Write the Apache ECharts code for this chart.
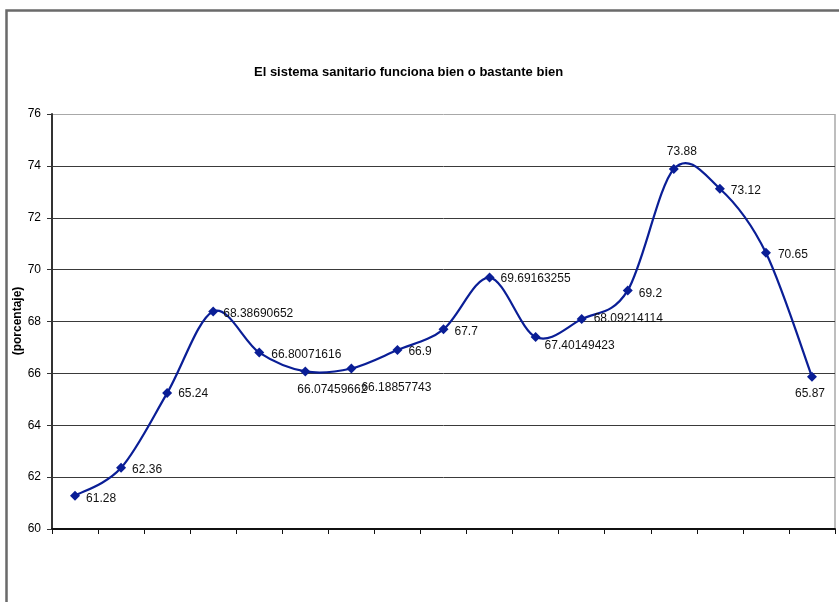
<!DOCTYPE html>
<html>
<head>
<meta charset="utf-8">
<script src="https://cdn.jsdelivr.net/npm/echarts@6/dist/echarts.min.js"></script>
<style>html,body{margin:0;padding:0;background:#fff}#c{width:839px;height:602px}</style>
</head>
<body>
<div id="c"></div>
<script>
var titleText = 'El sistema sanitario funciona bien o bastante bien';
var yAxisName = '(porcentaje)';
var categories = ['1','2','3','4','5','6','7','8','9','10','11','12','13','14','15','16','17'];
var values = [61.28, 62.36, 65.24, 68.38690652, 66.80071616, 66.07459662, 66.18857743, 66.9, 67.7,
              69.69163255, 67.40149423, 68.09214114, 69.2, 73.88, 73.12, 70.65, 65.87];
var yMin = 60, yMax = 76, yStep = 2;

// label placement tweaks (layout only)
var labelOffsets = [[0,3],[0,2],[0,1],[-1,2],[1,2],[-19,18],[-1,19],[0,2],[0,2],[0,1],[-2,9],[1,0],[0,3],[-18,-17],[0,2],[1,2],[-28,17]];

var chart = echarts.init(document.getElementById('c'), null, {renderer:'canvas'});
var font = '"Liberation Sans", Arial, sans-serif';
var lineColor = '#0a1e96';
var splitColors = [];
for (var i = 0; i <= (yMax - yMin) / yStep; i++) splitColors.push(i === (yMax - yMin) / yStep ? '#a8a8a8' : '#3a3a3a');

// Excel-style smoothed curve (Catmull-Rom through the data points, via the axis scales)
function renderCurve(params, api) {
  if (params.dataIndex !== 0) return null;
  var pts = [];
  for (var k = 0; k < values.length; k++) pts.push(api.coord([k, values[k]]));
  var d = 'M' + pts[0][0] + ' ' + pts[0][1];
  for (var j = 0; j < pts.length - 1; j++) {
    var p0 = pts[j > 0 ? j - 1 : j], p1 = pts[j], p2 = pts[j + 1], p3 = pts[j + 2 < pts.length ? j + 2 : j + 1];
    var c1x = p1[0] + (p2[0] - p0[0]) / 6, c1y = p1[1] + (p2[1] - p0[1]) / 6;
    var c2x = p2[0] - (p3[0] - p1[0]) / 6, c2y = p2[1] - (p3[1] - p1[1]) / 6;
    d += ' C' + c1x + ' ' + c1y + ' ' + c2x + ' ' + c2y + ' ' + p2[0] + ' ' + p2[1];
  }
  return {
    type: 'path',
    shape: {pathData: d},
    style: {fill: 'none', stroke: lineColor, lineWidth: 2.2}
  };
}

chart.setOption({
  animation: false,
  backgroundColor: '#fff',
  textStyle: {fontFamily: font},
  title: {
    text: titleText, left: 249, top: 61,
    textStyle: {fontFamily: font, fontSize: 13, fontWeight: 'bold', color: '#000'}
  },
  graphic: [{
    type: 'rect', shape: {x: 6.5, y: 10.5, width: 900, height: 700},
    style: {fill: 'none', stroke: '#6a6a6a', lineWidth: 2.5}, silent: true, z: -1
  }, {
    type: 'line', shape: {x1: 835, y1: 114, x2: 835, y2: 529},
    style: {stroke: '#a8a8a8', lineWidth: 1.5}, silent: true
  }, {
    type: 'text', x: 18, y: 321, rotation: Math.PI / 2, silent: true,
    style: {text: yAxisName, font: 'bold 12px ' + font, fill: '#000', align: 'center', verticalAlign: 'middle'}
  }],
  grid: {left: 52, right: 4, top: 114, bottom: 73, containLabel: false, outerBoundsMode: 'none'},
  xAxis: {
    type: 'category', data: categories, boundaryGap: true,
    axisLine: {lineStyle: {color: '#111', width: 2}},
    axisTick: {show: true, length: 5, inside: false, alignWithLabel: false, lineStyle: {color: '#111', width: 1}},
    axisLabel: {show: false},
    splitLine: {show: false}
  },
  yAxis: {
    type: 'value', min: yMin, max: yMax, interval: yStep,
    axisLine: {show: true, lineStyle: {color: '#333', width: 2}},
    axisTick: {show: true, length: 5, lineStyle: {color: '#333', width: 1}},
    axisLabel: {fontFamily: font, fontSize: 12, color: '#000', margin: 11},
    splitLine: {show: true, lineStyle: {color: splitColors, width: 1}}
  },
  series: [{
    type: 'custom',
    renderItem: renderCurve,
    data: values.map(function (v, i) { return [i, v]; }),
    encode: {x: 0, y: 1},
    silent: true,
    z: 4
  }, {
    type: 'line',
    data: values.map(function (v, i) {
      return {value: v, label: {offset: labelOffsets[i]}};
    }),
    symbol: 'diamond', symbolSize: 10,
    lineStyle: {width: 0, opacity: 0},
    itemStyle: {color: lineColor},
    label: {
      show: true, position: 'right', distance: 6,
      fontFamily: font, fontSize: 12, color: '#111',
      formatter: function (p) { return String(p.value); }
    },
    z: 5
  }]
});
</script>
</body>
</html>
